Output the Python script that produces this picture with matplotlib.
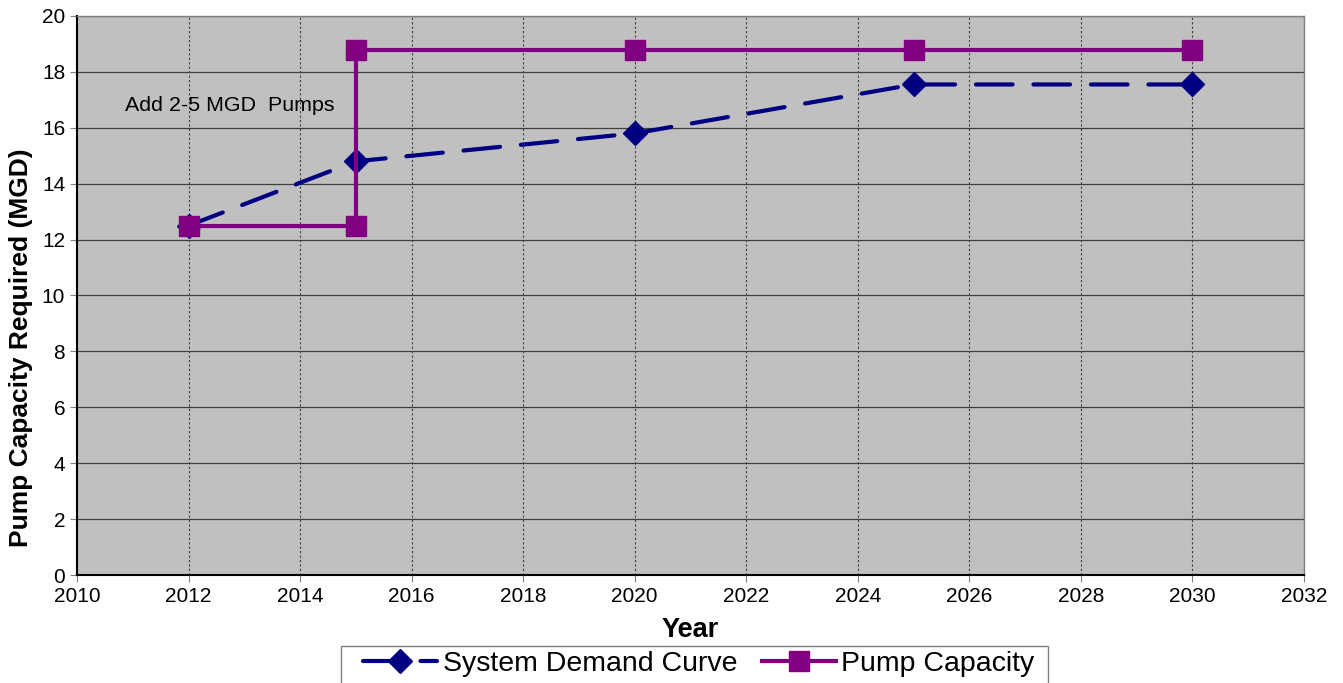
import matplotlib
matplotlib.use("Agg")
import matplotlib.pyplot as plt
from matplotlib.patches import Rectangle

plt.rcParams['font.family'] = ['Liberation Sans', 'DejaVu Sans']

demand_years = [2012, 2015, 2020, 2025, 2030]
demand_values = [12.5, 14.8, 15.8, 17.55, 17.55]
pump_years = [2012, 2015, 2015, 2020, 2025, 2030]
pump_values = [12.5, 12.5, 18.8, 18.8, 18.8, 18.8]
annotation = "Add 2-5 MGD  Pumps"

W, H = 1343, 683
fig = plt.figure(figsize=(W / 100, H / 100), dpi=100)
ax = fig.add_axes([0.0573, 0.1581, 0.9137, 0.8185])
ax.set_facecolor('#c0c0c0')

ax.plot(demand_years, demand_values, color='#000080', lw=3, ls=(0, (8.8, 5)),
        dash_capstyle='round', marker='D', markersize=12, label='System Demand Curve', zorder=3)
ax.plot(pump_years, pump_values, color='#800080', lw=3, marker='s', markersize=15,
        label='Pump Capacity', zorder=4)

ax.set_xlim(2010, 2032)
ax.set_ylim(0, 20)
ax.set_xticks(range(2010, 2033, 2))
ax.set_yticks(range(0, 21, 2))
ax.grid(axis='y', color='#404040', lw=0.9, ls='-')
ax.grid(axis='x', color='#404040', lw=0.8, ls=(0, (2, 2)))
ax.set_axisbelow(True)
ax.tick_params(labelsize=15, length=5, direction='out', color='#808080')

for s in ['left', 'bottom']:
    ax.spines[s].set_color('black')
    ax.spines[s].set_linewidth(1.5)
for s in ['top', 'right']:
    ax.spines[s].set_color('#808080')
    ax.spines[s].set_linewidth(1)

ax.text(2010.86, 16.8, annotation, fontsize=15.4, va='center', ha='left')

ax.set_xlabel('Year', fontsize=19.5, fontweight='bold', labelpad=8)
ax.set_ylabel('Pump Capacity Required (MGD)', fontsize=19, fontweight='bold')
ax.yaxis.set_label_coords(-0.036, 0.406)

# legend frame drawn as a figure rectangle
fig.patches.append(Rectangle((341 / W, -0.02), (1048 - 341) / W, 0.02 + (683 - 646) / H,
                             transform=fig.transFigure, facecolor='white',
                             edgecolor='#808080', lw=1, zorder=0))
leg = fig.legend(loc='center', bbox_to_anchor=(0.5205, 1 - 664 / H), ncol=2, fontsize=20.5,
                 frameon=False, borderpad=0.0,
                 handlelength=2.6, columnspacing=0.85, handletextpad=0.2, borderaxespad=0.0)

fig.savefig('out.png', dpi=100)
